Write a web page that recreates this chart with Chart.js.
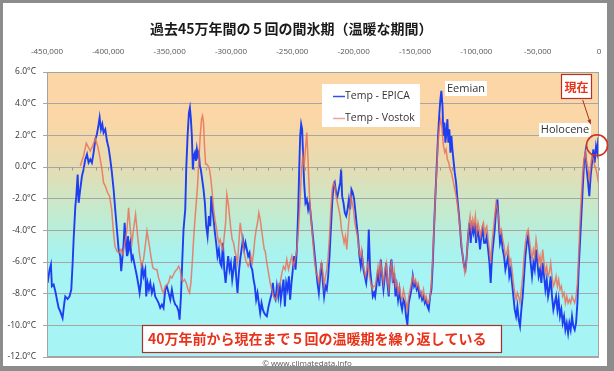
<!DOCTYPE html>
<html>
<head>
<meta charset="utf-8">
<script src="https://cdn.jsdelivr.net/npm/chart.js@4/dist/chart.umd.min.js"></script>
<style>
html,body{margin:0;padding:0;background:#fff;}
canvas{display:block;}
</style>
</head>
<body>
<canvas id="c" width="614" height="371"></canvas>
<script>
// ---- Axis ticks ----
const xTickValues = [-450000,-400000,-350000,-300000,-250000,-200000,-150000,-100000,-50000,0];
const yTickValues = [-12,-10,-8,-6,-4,-2,0,2,4,6];

// ---- Series labels ----
const seriesLabels = ['Temp - EPICA','Temp - Vostok'];

// ---- EPICA: [thousand years (negative = before present), temperature anomaly °C] ----
const epicaData = [
[-449.5,-7.32],[-447.9,-6.48],[-446.8,-6.16],[-446.0,-7.53],[-444.6,-7.43],[-443.2,-7.85],[-441.9,-8.38],[-440.5,-8.90],[-439.2,-9.12],[-437.3,-9.54],
[-435.9,-8.59],[-435.1,-8.17],[-433.2,-8.34],[-431.6,-8.17],[-430.2,-7.74],[-429.1,-6.06],[-428.3,-4.58],[-426.9,-2.47],[-426.1,-1.84],[-425.0,-0.47],
[-424.2,-2.26],[-422.9,-1.42],[-421.5,-0.57],[-420.2,-0.15],[-418.8,0.48],[-417.4,0.80],[-416.1,0.27],[-414.7,0.48],[-413.4,0.27],[-412.0,0.91],
[-410.6,1.75],[-409.3,2.07],[-407.9,2.70],[-407.1,3.12],[-406.0,2.38],[-404.9,2.70],[-403.9,2.17],[-402.5,2.38],[-401.1,1.64],[-399.8,1.22],
[-398.4,0.48],[-397.1,-0.36],[-395.7,-1.42],[-394.4,-2.68],[-393.0,-3.95],[-391.6,-5.21],[-390.3,-5.63],[-389.5,-6.58],[-388.4,-5.63],[-387.5,-4.79],
[-386.7,-3.52],[-385.7,-4.79],[-384.8,-5.63],[-384.0,-4.37],[-383.2,-5.21],[-382.1,-4.79],[-381.0,-5.84],[-380.0,-5.63],[-378.9,-6.06],[-377.8,-6.48],
[-376.7,-6.90],[-375.3,-7.53],[-374.5,-7.95],[-373.4,-7.32],[-372.6,-6.06],[-371.3,-6.90],[-369.9,-6.48],[-369.1,-8.17],[-368.0,-7.32],[-366.9,-7.74],
[-365.8,-7.32],[-364.5,-7.95],[-363.1,-7.53],[-361.8,-8.17],
[-360.4,-8.38],[-359.0,-8.59],[-357.7,-8.90],[-356.3,-8.69],[-355.0,-8.90],[-353.6,-7.74],[-352.3,-7.53],[-350.9,-7.95],[-349.5,-8.38],[-348.2,-7.74],
[-346.8,-8.38],[-345.5,-8.69],[-344.1,-8.80],[-342.7,-9.12],[-341.9,-9.64],[-340.8,-8.17],[-339.8,-6.06],[-338.7,-3.95],[-337.3,-2.68],[-336.5,-0.15],
[-335.4,1.96],[-334.3,3.44],[-333.5,3.75],[-332.7,3.02],[-331.9,1.96],[-331.1,-0.15],[-330.3,0.70],[-329.4,0.91],[-328.6,0.38],[-327.8,1.12],
[-327.0,0.70],[-326.2,0.91],[-325.4,0.06],[-324.6,-0.15],[-323.5,-0.78],[-322.4,-1.42],[-321.3,-2.26],[-320.2,-3.74],[-319.1,-4.37],[-318.0,-3.10],
[-316.9,-3.74],[-316.1,-1.84],[-315.3,-2.47],[-314.2,-3.31],[-313.1,-4.16],[-312.1,-4.79],[-311.0,-5.63],[-309.9,-5.21],[-308.8,-6.06],[-307.7,-6.27],
[-306.6,-4.79],[-305.5,-6.48],[-304.4,-7.32],[-303.4,-6.48],[-302.3,-5.63],[-301.2,-6.48],[-300.1,-6.06],[-299.0,-7.11],[-297.9,-6.48],[-296.8,-5.63],
[-295.8,-6.90],[-294.7,-7.95],[-293.6,-6.69],[-292.5,-5.84],[-291.4,-5.21],[-290.3,-4.58],[-289.2,-5.21],[-288.2,-4.79],[-287.1,-5.21],[-286.0,-5.63],
[-284.9,-5.42],[-283.8,-6.27],[-282.7,-6.48],[-281.6,-7.11],[-280.6,-7.53],[-279.5,-8.38],[-278.4,-7.95],[-277.3,-8.59],[-276.2,-9.22],[-275.1,-8.59],
[-274.0,-9.01],[-272.9,-9.22],
[-272.1,-9.33],[-270.8,-9.43],[-269.4,-8.80],[-268.1,-8.38],[-266.7,-7.95],[-265.9,-7.32],[-264.8,-8.17],[-263.7,-8.38],[-262.6,-7.53],[-261.5,-8.17],
[-260.4,-7.32],[-259.4,-8.38],[-258.3,-7.74],[-257.2,-7.11],[-256.1,-8.80],[-255.0,-7.32],[-253.9,-7.74],[-252.8,-6.90],[-251.8,-8.38],[-250.7,-7.32],
[-249.6,-6.48],[-248.5,-5.63],[-247.4,-6.48],[-246.3,-5.21],[-245.2,-2.68],[-244.4,-0.15],[-243.6,1.96],[-242.8,2.70],[-242.0,2.38],[-241.2,0.70],
[-240.4,-0.99],[-239.3,-2.26],[-238.2,-2.05],[-237.1,-2.68],[-236.0,-2.26],[-234.9,-3.10],[-233.8,-3.95],[-232.7,-4.79],[-231.7,-5.63],[-230.6,-6.48],
[-229.5,-7.32],[-228.4,-7.95],[-227.3,-6.90],[-226.2,-6.06],[-225.1,-7.32],[-224.1,-8.17],[-223.0,-7.53],[-221.9,-7.74],[-220.8,-6.90],[-219.7,-5.63],
[-218.6,-3.95],[-217.5,-2.26],[-216.4,-1.20],[-215.4,-0.99],[-214.3,-1.63],[-213.2,-1.84],[-212.1,-1.42],[-211.0,-0.99],[-210.2,-0.15],[-209.4,-1.84],
[-208.3,-2.26],[-207.2,-2.89],[-206.1,-3.10],[-205.0,-2.68],[-203.9,-2.05],[-202.9,-2.68],[-201.8,-1.42],[-200.7,-1.63],[-199.6,-2.05],[-198.5,-2.89],
[-197.4,-3.74],[-196.3,-4.58],[-195.3,-5.63],[-194.2,-6.27],[-193.1,-5.63],[-192.0,-6.48],[-190.9,-6.90],[-189.8,-7.32],[-188.7,-6.48],[-187.7,-3.95],
[-186.6,-6.48],[-185.5,-7.32],[-184.4,-8.17],[-183.3,-7.95],
[-182.5,-8.17],[-181.2,-7.32],[-180.1,-6.48],[-179.0,-7.53],[-177.9,-5.84],[-176.8,-6.90],[-175.7,-7.74],[-174.6,-6.90],[-173.5,-6.06],[-172.5,-7.32],
[-171.4,-8.17],[-170.3,-6.48],[-169.2,-5.84],[-168.1,-7.32],[-167.0,-6.69],[-165.9,-8.17],[-164.9,-7.53],[-163.8,-8.38],[-162.7,-7.74],[-161.6,-8.59],
[-160.5,-9.01],[-159.4,-8.38],[-158.3,-8.59],[-157.3,-9.43],[-156.2,-9.96],[-155.1,-8.59],[-154.0,-8.17],[-152.9,-7.74],[-151.8,-6.90],[-150.7,-7.53],
[-149.6,-7.32],[-148.6,-7.74],[-147.5,-7.53],[-146.4,-8.17],[-145.3,-7.95],[-144.2,-8.38],[-143.1,-8.17],[-142.0,-8.59],[-141.0,-8.38],[-139.9,-8.80],
[-138.8,-9.01],[-137.7,-8.17],[-136.6,-7.74],[-135.5,-6.06],[-134.4,-3.74],[-133.4,-1.84],[-132.3,0.06],[-131.2,1.96],[-130.1,3.44],[-129.3,4.28],
[-128.5,4.81],[-127.6,3.86],[-126.8,1.96],[-126.0,2.80],[-125.2,1.54],[-124.4,2.17],[-123.6,3.02],[-122.8,1.54],[-122.0,2.38],[-121.1,0.91],
[-120.3,1.96],[-119.5,1.12],[-118.7,0.48],[-117.6,-0.36],[-116.5,-0.99],[-115.4,-2.05],[-114.3,-2.89],[-113.2,-3.95],[-112.2,-5.00],[-111.1,-5.63],
[-110.0,-6.27],[-108.9,-6.48],[-107.8,-5.63],[-106.7,-4.37],[-105.6,-3.52],[-104.6,-4.79],[-103.5,-3.74],[-102.4,-4.16],[-101.3,-3.52],[-100.2,-4.79],
[-99.1,-3.95],[-98.0,-4.37],[-97.0,-5.21],[-95.9,-4.37],[-94.8,-3.95],[-93.7,-4.79],
[-92.6,-4.79],[-91.5,-4.37],[-90.4,-5.21],[-89.3,-6.06],[-88.3,-7.32],[-87.2,-5.63],[-86.1,-4.79],[-85.0,-3.95],[-83.9,-2.68],[-82.8,-2.05],
[-81.7,-3.52],[-80.7,-4.79],[-79.6,-4.37],[-78.5,-5.21],[-77.4,-5.63],[-76.3,-6.48],[-75.2,-6.06],[-74.1,-5.63],[-73.1,-6.90],[-72.0,-6.48],
[-70.9,-7.32],[-69.8,-8.17],[-68.7,-9.01],[-67.6,-9.43],[-66.5,-8.80],[-65.5,-9.64],[-64.4,-10.06],[-63.3,-9.01],[-62.2,-8.17],[-61.1,-6.90],
[-60.0,-5.63],[-58.9,-4.79],[-57.8,-4.37],[-56.8,-5.21],[-55.7,-6.06],[-54.6,-6.90],[-53.5,-6.06],[-52.4,-6.48],[-51.3,-5.21],[-50.2,-6.06],
[-49.2,-6.90],[-48.1,-6.48],[-47.0,-7.32],[-45.9,-6.06],[-44.8,-6.90],[-43.7,-7.74],[-42.6,-7.11],[-41.5,-8.17],[-40.5,-7.74],[-39.4,-6.90],
[-38.3,-8.17],[-37.2,-9.01],[-36.1,-8.59],[-35.0,-8.17],[-33.9,-9.01],[-32.9,-8.38],[-31.8,-9.43],[-30.7,-9.01],[-29.6,-9.85],[-28.5,-9.43],
[-27.4,-10.28],[-26.3,-9.85],[-25.2,-10.49],[-24.2,-9.85],[-23.1,-10.28],[-22.0,-9.43],[-20.9,-10.06],[-19.8,-10.28],[-18.7,-9.85],[-17.6,-8.59],
[-16.6,-6.48],[-15.5,-4.79],[-14.4,-3.10],[-13.3,-1.42],[-12.2,0.27],[-11.1,0.91],[-10.0,-0.15],[-8.9,-0.99],[-7.9,-1.84],[-6.8,-0.57],
[-5.7,0.27],[-4.6,1.12],[-3.5,0.27],[-2.4,1.33],[-1.3,0.91],[-0.5,1.86]
];

// ---- Vostok: [thousand years, °C] ----
const vostokData = [
[-422.9,0.06],[-420.2,0.70],[-418.0,1.50],[-416.1,1.22],[-414.7,1.01],[-412.8,1.33],[-410.6,1.79],[-408.7,1.33],[-407.1,0.70],[-405.2,-0.15],
[-403.9,-0.99],[-402.5,-1.20],[-400.6,-1.63],[-399.0,-1.84],[-397.3,-2.68],[-396.0,-3.95],[-394.6,-5.00],[-393.0,-5.32],[-391.4,-5.42],[-389.7,-5.21],
[-388.1,-5.53],[-386.5,-4.79],[-384.8,-3.95],[-383.5,-2.57],[-382.1,-3.95],[-380.8,-4.79],[-379.1,-3.74],[-377.8,-3.00],[-376.1,-4.37],[-374.5,-5.53],
[-372.9,-6.27],[-371.3,-5.84],[-369.6,-4.79],[-368.5,-4.05],[-366.9,-4.79],[-365.3,-5.63],[-363.7,-6.37],[-361.8,-6.48],
[-360.4,-6.48],[-359.0,-7.01],[-357.7,-7.32],[-356.3,-7.74],[-355.0,-7.95],[-353.6,-7.53],[-352.3,-7.43],[-350.9,-7.32],[-349.5,-6.90],[-348.2,-7.01],
[-346.8,-6.79],[-345.5,-6.58],[-344.1,-6.48],[-342.7,-6.27],[-341.4,-6.48],[-340.3,-7.11],[-339.2,-7.22],[-337.9,-7.11],[-336.5,-7.32],[-335.1,-7.74],
[-333.8,-7.95],[-332.7,-7.32],[-331.6,-6.06],[-330.5,-4.58],[-329.4,-3.31],[-328.3,-2.26],[-327.3,-1.20],[-326.2,0.48],[-325.1,1.96],[-324.0,3.02],
[-323.2,3.23],[-322.4,2.80],[-321.6,1.33],[-320.7,0.17],[-319.7,0.17],[-318.6,0.06],[-317.5,-0.15],[-316.4,-0.78],[-315.3,-1.63],[-314.2,-2.68],
[-313.1,-3.31],[-312.1,-3.74],[-311.0,-4.37],[-309.9,-4.79],[-308.8,-4.58],[-307.7,-5.00],[-306.6,-5.21],[-305.5,-4.37],[-304.4,-3.52],[-303.4,-1.73],
[-302.3,-2.26],[-301.2,-3.10],[-300.1,-3.95],[-299.0,-4.58],[-297.9,-4.79],[-296.8,-5.32],[-295.8,-5.63],[-294.7,-6.06],[-293.6,-4.79],[-292.5,-3.52],
[-291.4,-4.16],[-290.3,-4.79],[-289.2,-5.42],[-288.2,-5.84],[-287.1,-6.06],[-286.0,-6.27],[-284.9,-6.06],[-283.8,-5.63],[-282.7,-6.06],[-281.6,-5.42],
[-280.6,-4.58],[-279.5,-3.95],[-278.4,-3.52],[-277.3,-2.89],[-276.2,-3.31],[-275.1,-3.95],[-274.0,-4.58],[-272.9,-5.21],
[-272.1,-5.32],[-270.8,-6.06],[-269.4,-6.69],[-268.1,-7.32],[-266.7,-7.74],[-265.3,-8.17],[-264.0,-8.38],[-262.6,-8.17],[-261.3,-7.53],[-259.9,-7.32],
[-258.5,-6.69],[-257.2,-6.27],[-255.8,-6.48],[-254.5,-5.84],[-253.1,-6.48],[-251.8,-6.06],[-250.4,-5.63],[-249.0,-6.27],[-247.7,-5.84],[-246.3,-5.21],
[-245.0,-3.95],[-243.6,-1.84],[-242.5,-0.15],[-241.4,0.70],[-240.4,0.06],[-239.3,1.12],[-238.2,2.17],[-237.1,0.27],[-236.0,-1.84],[-234.9,-3.10],
[-233.8,-4.16],[-232.7,-5.21],[-231.7,-6.06],[-230.6,-6.69],[-229.5,-6.90],[-228.4,-7.32],[-227.3,-6.48],[-226.2,-6.06],[-225.1,-6.69],[-224.1,-7.53],
[-223.0,-6.90],[-221.9,-6.48],[-220.8,-5.63],[-219.7,-4.37],[-218.6,-2.68],[-217.5,-1.42],[-216.4,-0.99],[-215.4,-1.20],[-214.3,-1.84],[-213.2,-2.26],
[-212.1,-2.68],[-211.0,-3.10],[-209.9,-3.95],[-208.8,-4.37],[-207.8,-4.79],[-206.7,-4.37],[-205.6,-5.21],[-204.5,-3.95],[-203.4,-2.89],[-202.3,-1.84],
[-201.2,-2.26],[-200.1,-2.68],[-199.1,-3.52],[-198.0,-3.95],[-196.9,-4.37],[-195.8,-5.21],[-194.7,-5.63],[-193.6,-5.21],[-192.5,-6.06],[-191.5,-6.48],
[-190.4,-6.90],[-189.3,-6.48],[-188.2,-6.06],[-187.1,-6.90],[-186.0,-7.32],[-184.9,-7.74],[-183.9,-7.53],
[-182.5,-7.53],[-181.2,-6.90],[-180.1,-6.27],[-179.0,-6.90],[-177.9,-6.06],[-176.8,-6.69],[-175.7,-7.32],[-174.6,-6.48],[-173.5,-6.06],[-172.5,-7.11],
[-171.4,-7.74],[-170.3,-6.48],[-169.2,-6.06],[-168.1,-7.11],[-167.0,-6.48],[-165.9,-7.53],[-164.9,-7.32],[-163.8,-7.95],[-162.7,-7.53],[-161.6,-8.17],
[-160.5,-8.38],[-159.4,-7.74],[-158.3,-8.17],[-157.3,-8.59],[-156.2,-9.01],[-155.1,-8.17],[-154.0,-7.74],[-152.9,-7.32],[-151.8,-6.90],[-150.7,-7.32],
[-149.6,-7.11],[-148.6,-7.53],[-147.5,-7.32],[-146.4,-7.74],[-145.3,-7.95],[-144.2,-8.17],[-143.1,-7.74],[-142.0,-8.38],[-141.0,-8.17],[-139.9,-8.59],
[-138.8,-8.59],[-137.7,-8.17],[-136.6,-7.32],[-135.5,-5.63],[-134.4,-3.74],[-133.4,-1.84],[-132.3,-0.15],[-131.2,1.54],[-130.1,2.59],[-129.0,3.02],
[-127.9,2.38],[-126.8,1.33],[-125.7,0.91],[-124.7,1.12],[-123.6,0.48],[-122.5,0.27],[-121.4,-0.15],[-120.3,-0.36],[-119.2,-0.78],[-118.1,-1.20],
[-117.0,-1.63],[-116.0,-2.05],[-114.9,-2.68],[-113.8,-3.52],[-112.7,-4.37],[-111.6,-5.21],[-110.5,-6.06],[-109.4,-6.69],[-108.4,-6.27],[-107.3,-5.00],
[-106.2,-3.74],[-105.1,-3.10],[-104.0,-3.95],[-102.9,-3.31],[-101.8,-3.74],[-100.8,-3.10],[-99.7,-4.16],[-98.6,-3.52],[-97.5,-3.95],[-96.4,-4.37],
[-95.3,-3.74],[-94.2,-3.52],[-93.1,-4.37],
[-92.6,-3.95],[-91.5,-3.74],[-90.4,-4.58],[-89.3,-5.21],[-88.3,-6.06],[-87.2,-4.79],[-86.1,-3.95],[-85.0,-3.10],[-83.9,-2.26],[-82.8,-2.68],
[-81.7,-3.31],[-80.7,-4.16],[-79.6,-3.95],[-78.5,-4.58],[-77.4,-5.00],[-76.3,-5.63],[-75.2,-5.42],[-74.1,-5.00],[-73.1,-6.06],[-72.0,-5.84],
[-70.9,-6.48],[-69.8,-7.32],[-68.7,-7.95],[-67.6,-8.38],[-66.5,-7.95],[-65.5,-8.17],[-64.4,-8.59],[-63.3,-7.74],[-62.2,-6.90],[-61.1,-5.63],
[-60.0,-4.79],[-58.9,-4.16],[-57.8,-3.95],[-56.8,-4.58],[-55.7,-5.21],[-54.6,-5.84],[-53.5,-5.21],[-52.4,-5.63],[-51.3,-4.58],[-50.2,-5.21],
[-49.2,-6.06],[-48.1,-5.63],[-47.0,-6.27],[-45.9,-5.21],[-44.8,-6.06],[-43.7,-6.69],[-42.6,-6.27],[-41.5,-6.90],[-40.5,-6.69],[-39.4,-6.06],
[-38.3,-6.90],[-37.2,-7.53],[-36.1,-7.32],[-35.0,-6.90],[-33.9,-7.53],[-32.9,-7.11],[-31.8,-7.74],[-30.7,-7.53],[-29.6,-8.17],[-28.5,-7.95],
[-27.4,-8.59],[-26.3,-8.17],[-25.2,-8.59],[-24.2,-8.38],[-23.1,-8.59],[-22.0,-8.17],[-20.9,-8.38],[-19.8,-8.59],[-18.7,-8.17],[-17.6,-7.32],
[-16.6,-5.63],[-15.5,-3.52],[-14.4,-1.84],[-13.3,-0.36],[-12.2,0.48],[-11.1,0.91],[-10.0,0.27],[-8.9,-0.15],[-7.9,-0.78],[-6.8,0.06],
[-5.7,0.70],[-4.6,0.48],[-3.5,0.06],[-2.4,-0.15],[-1.3,-0.57],[-0.5,-0.99]
];

// ---- Texts ----
const titleText = '過去45万年間の５回の間氷期（温暖な期間）';
const noteText = '40万年前から現在まで５回の温暖期を繰り返している';
const nowText = '現在';
const eemianText = 'Eemian';
const holoceneText = 'Holocene';
const creditText = '© www.climatedata.info';

const toPoints = arr => arr.map(p => ({x: p[0] * 1000, y: p[1]}));

const bgPlugin = {
  id: 'bg',
  beforeDraw(chart) {
    const {ctx, chartArea: a, width, height} = chart;
    const ys = chart.scales.y;
    ctx.save();
    ctx.fillStyle = '#8c8c8c';
    ctx.fillRect(0, 0, width, height);
    ctx.fillStyle = '#ffffff';
    ctx.fillRect(3, 3, width - 10, height - 8);
    const g = ctx.createLinearGradient(0, a.top, 0, a.bottom);
    const stops = [[6,'#fcd6a6'],[3,'#fbd6a6'],[0,'#e5dcb2'],[-3,'#c2ebcf'],[-5.2,'#aaf2ec'],[-6.5,'#a6f4f4'],[-12,'#a6f4f4']];
    stops.forEach(s => {
      const p = (ys.getPixelForValue(s[0]) - a.top) / (a.bottom - a.top);
      g.addColorStop(Math.min(1, Math.max(0, p)), s[1]);
    });
    ctx.fillStyle = g;
    ctx.fillRect(a.left, a.top, a.right - a.left, a.bottom - a.top);
    ctx.restore();
  }
};

function boxText(ctx, text, cx, cy, font, color, padX, h, stroke) {
  ctx.font = font;
  const w = ctx.measureText(text).width + padX * 2;
  ctx.fillStyle = '#ffffff';
  ctx.fillRect(Math.round(cx - w / 2), Math.round(cy - h / 2), Math.round(w), h);
  if (stroke) {
    ctx.strokeStyle = stroke; ctx.lineWidth = 1.2;
    ctx.strokeRect(Math.round(cx - w / 2) + 0.5, Math.round(cy - h / 2) + 0.5, Math.round(w) - 1, h - 1);
  }
  ctx.fillStyle = color;
  ctx.textAlign = 'center';
  ctx.textBaseline = 'middle';
  ctx.fillText(text, cx, cy + 0.5);
}

const overlayPlugin = {
  id: 'overlay',
  afterDraw(chart) {
    const {ctx, chartArea: a} = chart;
    const xs = chart.scales.x, ys = chart.scales.y;
    const X = v => xs.getPixelForValue(v), Y = v => ys.getPixelForValue(v);
    ctx.save();
    // plot border
    ctx.strokeStyle = '#a3a3a3'; ctx.lineWidth = 1;
    ctx.strokeRect(Math.round(a.left) + 0.5, Math.round(a.top) + 0.5, Math.round(a.right - a.left) - 1, Math.round(a.bottom - a.top) - 1);
    // horizontal axis at 0 with minor ticks
    const y0 = Math.round(Y(0)) + 0.5;
    ctx.strokeStyle = '#9a9a9a';
    ctx.beginPath();
    for (let v = xs.min; v <= xs.max; v += 10000) {
      const px = Math.round(X(v)) + 0.5;
      ctx.moveTo(px, y0); ctx.lineTo(px, y0 + 3);
    }
    ctx.stroke();

    // legend
    const lx = Math.round(X(-225700)), ly = Math.round(Y(5.23));
    ctx.fillStyle = '#ffffff';
    ctx.fillRect(lx, ly, 98, 43);
    chart.data.datasets.forEach((ds, i) => {
      const cy = ly + 12.5 + i * 22;
      ctx.strokeStyle = ds.legendColor; ctx.lineWidth = 1.5;
      ctx.beginPath(); ctx.moveTo(lx + 11, cy); ctx.lineTo(lx + 23, cy); ctx.stroke();
      ctx.fillStyle = '#333333';
      ctx.font = '10.5px "Open Sans"';
      ctx.textAlign = 'left'; ctx.textBaseline = 'middle';
      ctx.fillText(ds.label, lx + 23, cy);
    });

    // Eemian / Holocene labels
    boxText(ctx, eemianText, X(-108400), Y(4.95), '11px "Open Sans"', '#333333', 2, 15, null);
    boxText(ctx, holoceneText, X(-27700), Y(2.35), '11px "Open Sans"', '#333333', 2, 14, null);

    // 現在 callout
    const nx = X(-18300), ny = Y(5.08);
    ctx.fillStyle = '#ffffff';
    ctx.fillRect(Math.round(nx - 15.5), Math.round(ny - 12.5), 31, 25);
    ctx.strokeStyle = '#b03528'; ctx.lineWidth = 1.2;
    ctx.strokeRect(Math.round(nx - 15.5) + 0.5, Math.round(ny - 12.5) + 0.5, 30, 24);
    ctx.fillStyle = '#e8321a';
    ctx.font = 'bold 12px "Noto Sans CJK JP"';
    ctx.textAlign = 'center'; ctx.textBaseline = 'middle';
    ctx.fillText(nowText, nx, ny + 0.5);
    // arrow
    const ax1 = X(-13300), ay1 = Y(4.24), ax2 = X(-6800), ay2 = Y(2.70);
    ctx.strokeStyle = '#a8302a'; ctx.lineWidth = 1;
    ctx.beginPath(); ctx.moveTo(ax1, ay1); ctx.lineTo(ax2, ay2); ctx.stroke();
    const ang = Math.atan2(ay2 - ay1, ax2 - ax1);
    ctx.fillStyle = '#a8302a';
    ctx.beginPath();
    ctx.moveTo(ax2, ay2);
    ctx.lineTo(ax2 - 5 * Math.cos(ang - 0.4), ay2 - 5 * Math.sin(ang - 0.4));
    ctx.lineTo(ax2 - 5 * Math.cos(ang + 0.4), ay2 - 5 * Math.sin(ang + 0.4));
    ctx.closePath(); ctx.fill();
    // circle around present value
    ctx.strokeStyle = '#d0321e'; ctx.lineWidth = 1.6;
    ctx.beginPath(); ctx.arc(X(-1600), Y(1.37), 10.5, 0, Math.PI * 2); ctx.stroke();

    // bottom note box
    const bx = X(-225700), by = Y(-10.84);
    ctx.fillStyle = '#ffffff';
    ctx.fillRect(Math.round(bx - 180), Math.round(by - 14), 360, 28);
    ctx.strokeStyle = '#a8302a'; ctx.lineWidth = 1.2;
    ctx.strokeRect(Math.round(bx - 180) + 0.5, Math.round(by - 14) + 0.5, 359, 27);
    ctx.fillStyle = '#e8321a';
    ctx.font = 'bold 14px "Noto Sans CJK JP"';
    ctx.textAlign = 'left'; ctx.textBaseline = 'middle';
    ctx.fillText(noteText, Math.round(bx - 174), by + 0.5);

    // title
    ctx.fillStyle = '#1a1a1a';
    ctx.font = 'bold 14px "Noto Sans CJK JP"';
    ctx.textAlign = 'left'; ctx.textBaseline = 'middle';
    ctx.fillText(titleText, 150, 29);

    // credit
    ctx.fillStyle = '#595959';
    ctx.font = '8px "Open Sans"';
    ctx.textAlign = 'center'; ctx.textBaseline = 'middle';
    ctx.fillText(creditText, 307, 363.5);
    ctx.restore();
  }
};

new Chart(document.getElementById('c'), {
  type: 'line',
  data: {
    datasets: [
      {label: seriesLabels[0], data: toPoints(epicaData), borderColor: '#1e3ef2', legendColor: '#3050f0',
       borderWidth: 1.9, pointRadius: 0, tension: 0, order: 2},
      {label: seriesLabels[1], data: toPoints(vostokData), borderColor: 'rgba(236,108,84,0.82)', legendColor: '#eba69c',
       borderWidth: 1.5, pointRadius: 0, tension: 0, order: 1}
    ]
  },
  options: {
    responsive: false,
    animation: false,
    events: [],
    devicePixelRatio: 1,
    layout: {padding: {left: 0, right: 15, top: 0, bottom: 14}},
    plugins: {legend: {display: false}, title: {display: false}, tooltip: {enabled: false}},
    scales: {
      x: {
        type: 'linear', position: 'top', min: -450000, max: 0,
        afterBuildTicks: s => { s.ticks = xTickValues.map(v => ({value: v})); },
        afterFit: s => { s.height = 72; },
        grid: {display: false}, border: {display: false},
        ticks: {padding: 7, color: '#555555', autoSkip: false, maxRotation: 0,
                font: {family: '"Open Sans"', size: 8},
                callback: v => Number(v).toLocaleString('en-US')}
      },
      y: {
        min: -12, max: 6,
        afterBuildTicks: s => { s.ticks = yTickValues.map(v => ({value: v})); },
        afterFit: s => { s.width = 47; },
        grid: {color: '#a6a6a6', lineWidth: 1, tickLength: 4, tickColor: '#a6a6a6'},
        border: {display: false},
        ticks: {padding: 7, color: '#333333', font: {family: '"Open Sans"', size: 8.5},
                callback: v => Number(v).toFixed(1) + '°C'}
      }
    }
  },
  plugins: [bgPlugin, overlayPlugin]
});
</script>
</body>
</html>
